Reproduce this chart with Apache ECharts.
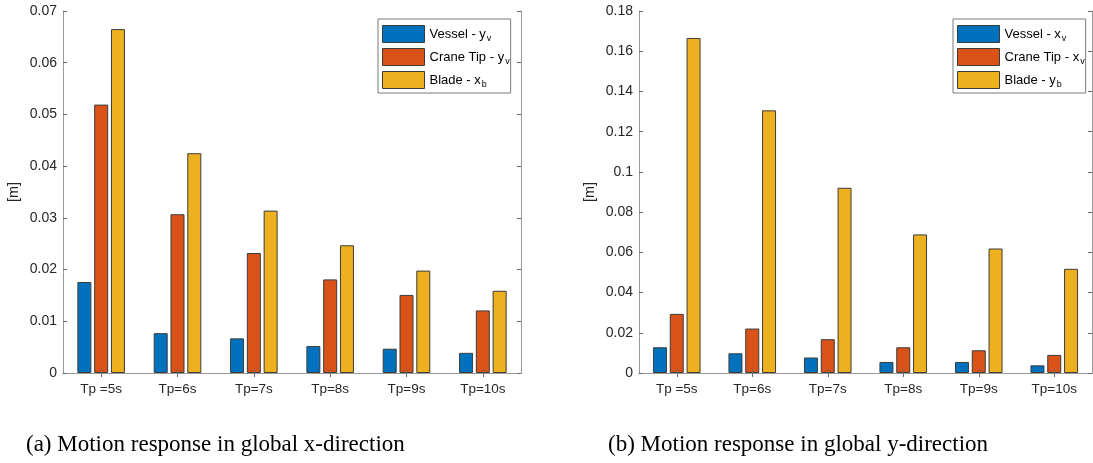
<!DOCTYPE html>
<html>
<head>
<meta charset="utf-8">
<script src="https://cdn.jsdelivr.net/npm/echarts@6/dist/echarts.min.js"></script>
<style>
html,body{margin:0;padding:0;background:#fff;}
#main{width:1093px;height:463px;}
</style>
</head>
<body>
<div id="main"></div>
<script>
const categories = ['Tp =5s', 'Tp=6s', 'Tp=7s', 'Tp=8s', 'Tp=9s', 'Tp=10s'];
// Panel (a): global x-direction
const vesselA = [0.0176, 0.0077, 0.0067, 0.0052, 0.0047, 0.0039];
const craneA  = [0.0519, 0.0307, 0.0232, 0.0181, 0.0151, 0.0121];
const bladeA  = [0.0665, 0.0425, 0.0314, 0.0247, 0.0198, 0.0159];
// Panel (b): global y-direction
const vesselB = [0.0128, 0.0098, 0.0077, 0.0055, 0.0055, 0.0038];
const craneB  = [0.0294, 0.0221, 0.0168, 0.0128, 0.0113, 0.0090];
const bladeB  = [0.1666, 0.1306, 0.0921, 0.0689, 0.0619, 0.0518];
const namesA = ['Vessel - y_v', 'Crane Tip - y_v', 'Blade - x_b'];
const namesB = ['Vessel - x_v', 'Crane Tip - x_v', 'Blade - y_b'];
const axisA = {max: 0.07, interval: 0.01};
const axisB = {max: 0.18, interval: 0.02};
const captions = ['(a) Motion response in global x-direction', '(b) Motion response in global y-direction'];
const colors = ['#0072BD', '#D95319', '#EDB120'];

const SANS = 'Liberation Sans';
const lineColor = '#9a9a9a';
const tickColor = '#6a6a6a';
const textColor = '#262626';

function xAxes(gi) {
  return [
    {type: 'category', gridIndex: gi, data: categories, position: 'bottom', z: 5,
     axisLine: {show: true, lineStyle: {color: lineColor, width: 1}},
     axisTick: {show: true, inside: true, alignWithLabel: true, length: 4, lineStyle: {color: tickColor}},
     axisLabel: {color: textColor, fontFamily: SANS, fontSize: 13.5, margin: 9}},
    {type: 'category', gridIndex: gi, data: categories, position: 'top', z: 5,
     axisLine: {show: true, lineStyle: {color: lineColor, width: 1}},
     axisTick: {show: true, inside: true, alignWithLabel: true, length: 4, lineStyle: {color: tickColor}},
     axisLabel: {show: false}}
  ];
}
function yAxes(gi, ax) {
  return [
    {type: 'value', gridIndex: gi, min: 0, max: ax.max, interval: ax.interval, position: 'left', z: 5,
     name: '[m]', nameLocation: 'middle', nameGap: 42,
     nameTextStyle: {color: textColor, fontFamily: SANS, fontSize: 14.5},
     axisLine: {show: true, lineStyle: {color: lineColor, width: 1}},
     axisTick: {show: true, inside: true, length: 4, lineStyle: {color: tickColor}},
     splitLine: {show: false},
     axisLabel: {color: textColor, fontFamily: SANS, fontSize: 14, margin: 6}},
    {type: 'value', gridIndex: gi, min: 0, max: ax.max, interval: ax.interval, position: 'right', z: 5,
     axisLine: {show: true, lineStyle: {color: lineColor, width: 1}},
     axisTick: {show: true, inside: true, length: 4, lineStyle: {color: tickColor}},
     splitLine: {show: false},
     axisLabel: {show: false}}
  ];
}
function barSeries(name, data, ci, xi, yi) {
  return {
    type: 'bar', name: name, data: data, xAxisIndex: xi, yAxisIndex: yi,
    barWidth: 14, barGap: '20%',
    itemStyle: {color: colors[ci], borderColor: '#3c3c3c', borderWidth: 1},
    emphasis: {disabled: true}
  };
}
function legend(names, left) {
  return {
    data: names, orient: 'vertical', left: left, top: 19,
    itemWidth: 42, itemHeight: 17, itemGap: 5,
    padding: [6, 1, 4, 4],
    borderColor: '#7a7a7a', borderWidth: 1, backgroundColor: '#fff',
    selectedMode: false, icon: 'rect',
    itemStyle: {borderColor: '#3c3c3c', borderWidth: 1},
    formatter: function (n) {
      const p = n.split('_');
      return '{n|' + p[0] + '}{s|' + p[1] + '}';
    },
    textStyle: {
      color: '#000', fontFamily: SANS, fontSize: 13,
      rich: {
        n: {fontFamily: SANS, fontSize: 13, color: '#000', lineHeight: 18, verticalAlign: 'middle'},
        s: {fontFamily: SANS, fontSize: 9, color: '#000', padding: [9, 0, 0, 1], lineHeight: 9}
      }
    }
  };
}

const chart = echarts.init(document.getElementById('main'), null, {renderer: 'canvas'});
chart.setOption({
  animation: false,
  backgroundColor: '#fff',
  title: [
    {text: captions[0], left: 26, top: 433, padding: 0,
     textStyle: {fontFamily: 'Liberation Serif', fontSize: 23, fontWeight: 'normal', color: '#000'}},
    {text: captions[1], left: 608, top: 433, padding: 0,
     textStyle: {fontFamily: 'Liberation Serif', fontSize: 23, fontWeight: 'normal', color: '#000'}}
  ],
  grid: [
    {left: 63, top: 11, width: 458, height: 362},
    {left: 639, top: 11, width: 453, height: 362}
  ],
  legend: [legend(namesA, 378), legend(namesB, 953)],
  xAxis: xAxes(0).concat(xAxes(1)),
  yAxis: yAxes(0, axisA).concat(yAxes(1, axisB)),
  series: [
    barSeries(namesA[0], vesselA, 0, 0, 0),
    barSeries(namesA[1], craneA, 1, 0, 0),
    barSeries(namesA[2], bladeA, 2, 0, 0),
    barSeries(namesB[0], vesselB, 0, 2, 2),
    barSeries(namesB[1], craneB, 1, 2, 2),
    barSeries(namesB[2], bladeB, 2, 2, 2)
  ]
});
</script>
</body>
</html>
